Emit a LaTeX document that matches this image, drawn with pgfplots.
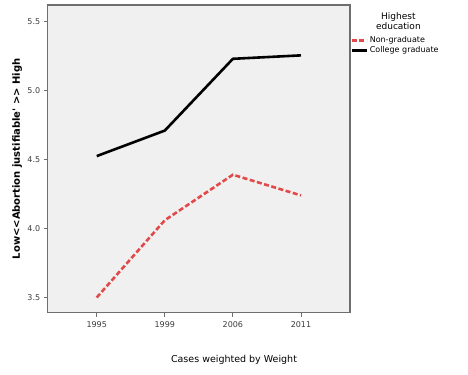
\documentclass[border=0pt]{standalone}
\usepackage{pgfplots}
\pgfplotsset{compat=1.18}
\usepackage{fontspec}
\setmainfont{DejaVu Sans}
\definecolor{ngred}{RGB}{226,74,74}
\definecolor{bggray}{RGB}{240,240,240}
\definecolor{axgray}{RGB}{110,110,110}
\definecolor{txtgray}{RGB}{60,60,60}
\begin{document}
\begin{tikzpicture}
\useasboundingbox (-47.7bp,-62.3bp) rectangle (420.3bp,312.7bp);
\begin{axis}[
  at={(0,0)}, anchor=south west,
  scale only axis, width=302.3bp, height=307.7bp,
  xmin=-0.72, xmax=3.72, ymin=3.39, ymax=5.62,
  xtick={0,1,2,3}, xticklabels={1995,1999,2006,2011},
  ytick={3.5,4.0,4.5,5.0,5.5},
  /pgf/number format/.cd, fixed, fixed zerofill, precision=1, assume math mode=true,
  /pgfplots/.cd,
  axis background/.style={fill=bggray},
  axis line style={axgray, line width=1.2bp},
  tick style={axgray, line width=0.8bp},
  tick align=outside, major tick length=4bp,
  xtick pos=bottom, ytick pos=left,
  ticklabel style={font=\fontsize{8bp}{9bp}\selectfont, text=txtgray},
  xticklabel style={yshift=-1bp},
  ylabel={\bfseries Low{<}{<}Abortion justifiable\textquotesingle{} {>}{>} High},
  ylabel style={font=\fontsize{10bp}{11bp}\selectfont, at={(ticklabel cs:0.5)}, anchor=south, yshift=-1.5bp},
  legend style={draw=none, fill=none, at={(rel axis cs:1,0.91)}, anchor=north west,
    font=\fontsize{8bp}{8bp}\selectfont, row sep=-2bp, inner xsep=0pt, xshift=0bp},
  legend cell align=left,
  legend image code/.code={\draw[#1] (0bp,0bp) -- (15bp,0bp);},
  clip=false,
]
\addplot[ngred, line width=2.6bp, dash pattern=on 5bp off 2.5bp] coordinates {(0,3.50) (1,4.06) (2,4.39) (3,4.24)};
\addlegendentry{Non-graduate}
\addplot[black, line width=2.6bp] coordinates {(0,4.525) (1,4.71) (2,5.23) (3,5.255)};
\addlegendentry{College graduate}
\node[align=center, font=\fontsize{9bp}{10bp}\selectfont, anchor=north] at (rel axis cs:1.16,0.985) {Highest\\education};
\node[font=\fontsize{9.5bp}{10bp}\selectfont, anchor=center] at (186.3bp,-47.3bp) {Cases weighted by Weight};
\end{axis}
\end{tikzpicture}
\end{document}
